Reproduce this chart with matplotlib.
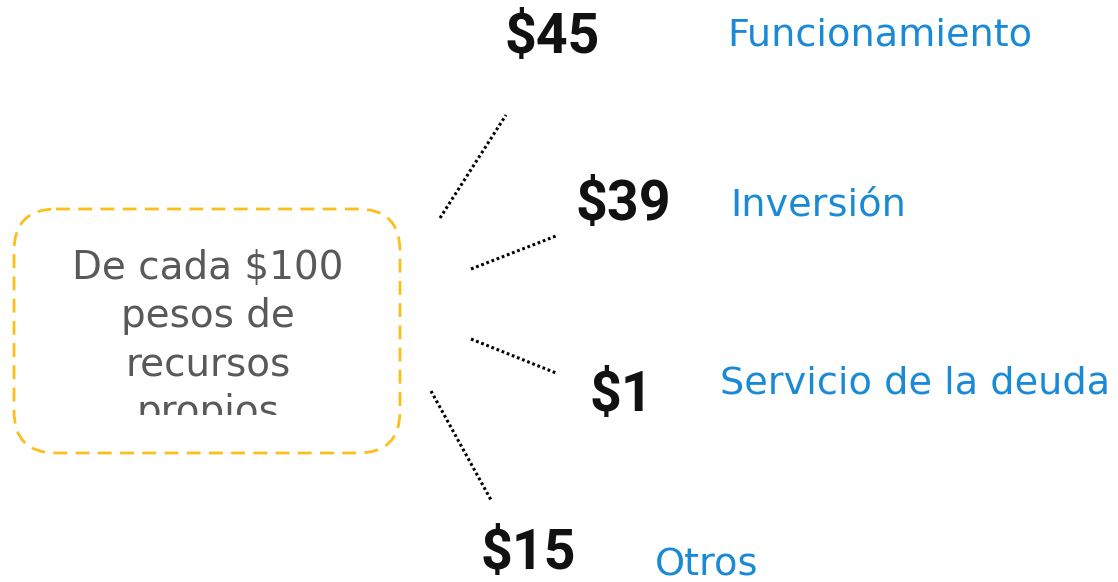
import matplotlib
matplotlib.use('agg')
import matplotlib.pyplot as plot
from matplotlib.patches import FancyBboxPatch
from matplotlib.transforms import Bbox

# data
amounts = [45, 39, 1, 15]
categories = ["Funcionamiento", "Inversión", "Servicio de la deuda", "Otros"]
intro_lines = ["De cada $100", "pesos de", "recursos", "propios"]

# layout (pixels, origin top-left)
amount_xy = [(552, 38), (623, 205), (621, 396), (528, 554)]
category_xy = [(727, 36), (730, 205), (720, 384), (655, 565)]
connectors = [((440, 218), (506, 115)),
              ((471, 269), (556, 236)),
              ((471, 339), (556, 373)),
              ((431, 391), (491, 500))]

blue = '#1a8ad6'
gold = '#fbbf1c'
gray = '#595959'

figure = plot.figure(figsize=(11.18, 5.82), dpi=100)
axis = figure.add_axes([0, 0, 1, 1])
axis.set_xlim(0, 1118)
axis.set_ylim(582, 0)
axis.axis('off')

box = FancyBboxPatch((14, 209), 386, 244, boxstyle='round,pad=0,rounding_size=42',
                     fill=False, edgecolor=gold, linewidth=2.0, linestyle=(0, (5, 3)))
axis.add_patch(box)

# last line of the box text is cut off, as in the original
(cx0, cy0), (cx1, cy1) = axis.transData.transform([(14, 209), (400, 415)])
clip_box = Bbox.from_extents(min(cx0, cx1), min(cy0, cy1), max(cx0, cx1), max(cy0, cy1))
for i, line in enumerate(intro_lines):
    t = axis.text(208, 268 + i * 48, line, ha='center', va='center', fontsize=28,
                  color=gray, family='DejaVu Sans', clip_on=True)
    t.set_clip_path(None)
    t.set_clip_box(clip_box)

for (x0, y0), (x1, y1) in connectors:
    axis.plot([x0, x1], [y0, y1], color='black', linewidth=2.2, linestyle=(0, (0.9, 0.9)))

for value, (x, y) in zip(amounts, amount_xy):
    axis.text(x, y, "${}".format(value), ha='center', va='center', fontsize=40,
              fontweight='bold', color='#111111', family='Roboto')

for name, (x, y) in zip(categories, category_xy):
    axis.text(x, y, name, ha='left', va='center', fontsize=27.5, color=blue,
              family='DejaVu Sans')

figure.savefig('out.png', dpi=100)
